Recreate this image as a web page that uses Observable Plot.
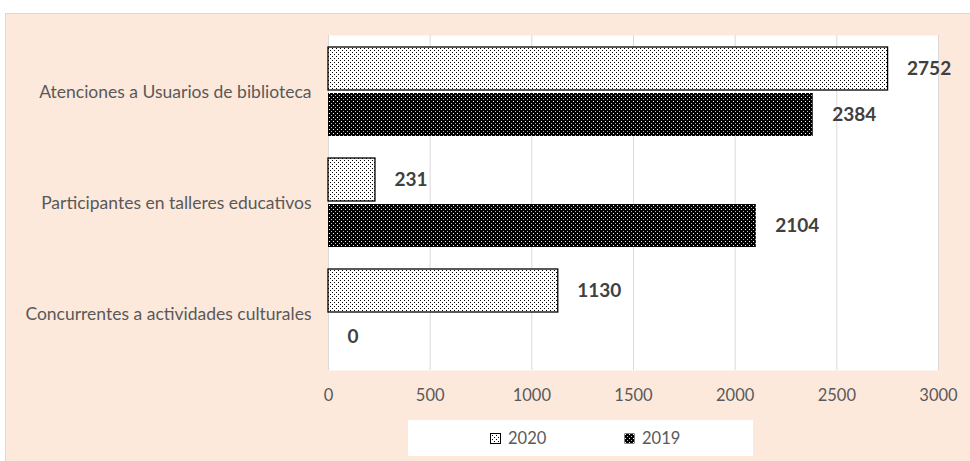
<!DOCTYPE html>
<html>
<head>
<meta charset="utf-8">
<script src="https://cdn.jsdelivr.net/npm/d3@7"></script>
<script src="https://cdn.jsdelivr.net/npm/@observablehq/plot@0.6"></script>
<style>
  html, body { margin: 0; padding: 0; background: #ffffff; }
  #wrap { position: relative; width: 970px; height: 461px; overflow: hidden; font-family: Lato, "Open Sans", sans-serif; }
  #panel { position: absolute; left: 5px; top: 13px; width: 965px; height: 448px; background: #FCE9DC; border-top: 1px solid #D9D9D9; border-left: 1px solid #D9D9D9; box-sizing: border-box; }
  #chart { position: absolute; left: 0; top: 0; }
  #legend { position: absolute; left: 408px; top: 420px; width: 345px; height: 36px; background: #ffffff; font-size: 16.5px; color: #595959; }
  .item { position: absolute; top: 0; height: 36px; display: flex; align-items: center; }
  .item svg { margin-right: 7px; }
</style>
</head>
<body>
<div id="wrap">
  <div id="panel"></div>
  <div id="chart"></div>
  <div id="legend"></div>
</div>
<script>
const categories = ["Atenciones a Usuarios de biblioteca", "Participantes en talleres educativos", "Concurrentes a actividades culturales"];
const years = ["2020", "2019"];
const values2020 = [2752, 231, 1130];
const values2019 = [2384, 2104, 0];
const xTicks = [0, 500, 1000, 1500, 2000, 2500, 3000];

const data2020 = categories.map((c, i) => ({category: c, year: "2020", value: values2020[i]}));
const data2019 = categories.map((c, i) => ({category: c, year: "2019", value: values2019[i]}));

function patternDefs(prefix) {
  return `
  <pattern id="${prefix}2020" patternUnits="userSpaceOnUse" width="4" height="4">
    <rect width="4" height="4" fill="#ffffff"/>
    <rect x="0" y="0" width="1" height="1" fill="#000"/>
    <rect x="2" y="2" width="1" height="1" fill="#000"/>
  </pattern>
  <pattern id="${prefix}2019" patternUnits="userSpaceOnUse" width="4" height="4">
    <rect width="4" height="4" fill="#000000"/>
    <rect x="1" y="1" width="1" height="1" fill="#ffffff"/>
    <rect x="3" y="3" width="1" height="1" fill="#bbbbbb"/>
  </pattern>`;
}

const half = 45; // inset splitting each category band into two bars

const chart = Plot.plot({
  width: 970,
  height: 415,
  marginLeft: 328,
  marginRight: 32,
  marginTop: 35,
  marginBottom: 45,
  style: {background: "transparent", fontFamily: "Lato, 'Open Sans', sans-serif"},
  x: {domain: [0, 3000]},
  y: {domain: categories, paddingInner: 0.2, paddingOuter: 0.1},
  marks: [
    Plot.frame({fill: "#ffffff", stroke: "none"}),
    Plot.gridX(xTicks, {stroke: "#D9D9D9", strokeOpacity: 1, strokeWidth: 1}),
    Plot.barX(data2020, {x: "value", y: "category", fill: "url(#p2020)", stroke: "#000", strokeWidth: 1.3, insetBottom: half + 1}),
    Plot.barX(data2019, {x: "value", y: "category", fill: "url(#p2019)", insetTop: half + 1}),
    Plot.text(data2020, {x: "value", y: "category", text: d => String(d.value), dy: -23, dx: 19, textAnchor: "start", fontSize: 19, fontWeight: "bold", fill: "#404040"}),
    Plot.text(data2019, {x: "value", y: "category", text: d => String(d.value), dy: 23, dx: 19, textAnchor: "start", fontSize: 19, fontWeight: "bold", fill: "#404040"}),
    Plot.axisX({ticks: xTicks, tickSize: 0, tickPadding: 19, fontSize: 16.5, fill: "#595959", label: null, tickFormat: d => String(d)}),
    Plot.axisY({tickSize: 0, tickPadding: 17, fontSize: 17.5, fill: "#595959", label: null})
  ]
});
const defs = document.createElementNS("http://www.w3.org/2000/svg", "defs");
defs.innerHTML = patternDefs("p");
chart.insertBefore(defs, chart.firstChild);
document.getElementById("chart").appendChild(chart);

const legend = document.getElementById("legend");
const legendPos = {"2020": 82, "2019": 216};
years.forEach(y => {
  const item = document.createElement("div");
  item.className = "item";
  item.style.left = legendPos[y] + "px";
  const stroke = y === "2020" ? ' stroke="#000" stroke-width="1"' : '';
  item.innerHTML = `<svg width="11" height="11"><defs>${patternDefs("l" + y + "_")}</defs><rect x="0.5" y="0.5" width="10" height="10" fill="url(#l${y}_${y})"${stroke}/></svg><span>${y}</span>`;
  legend.appendChild(item);
});
</script>
</body>
</html>
